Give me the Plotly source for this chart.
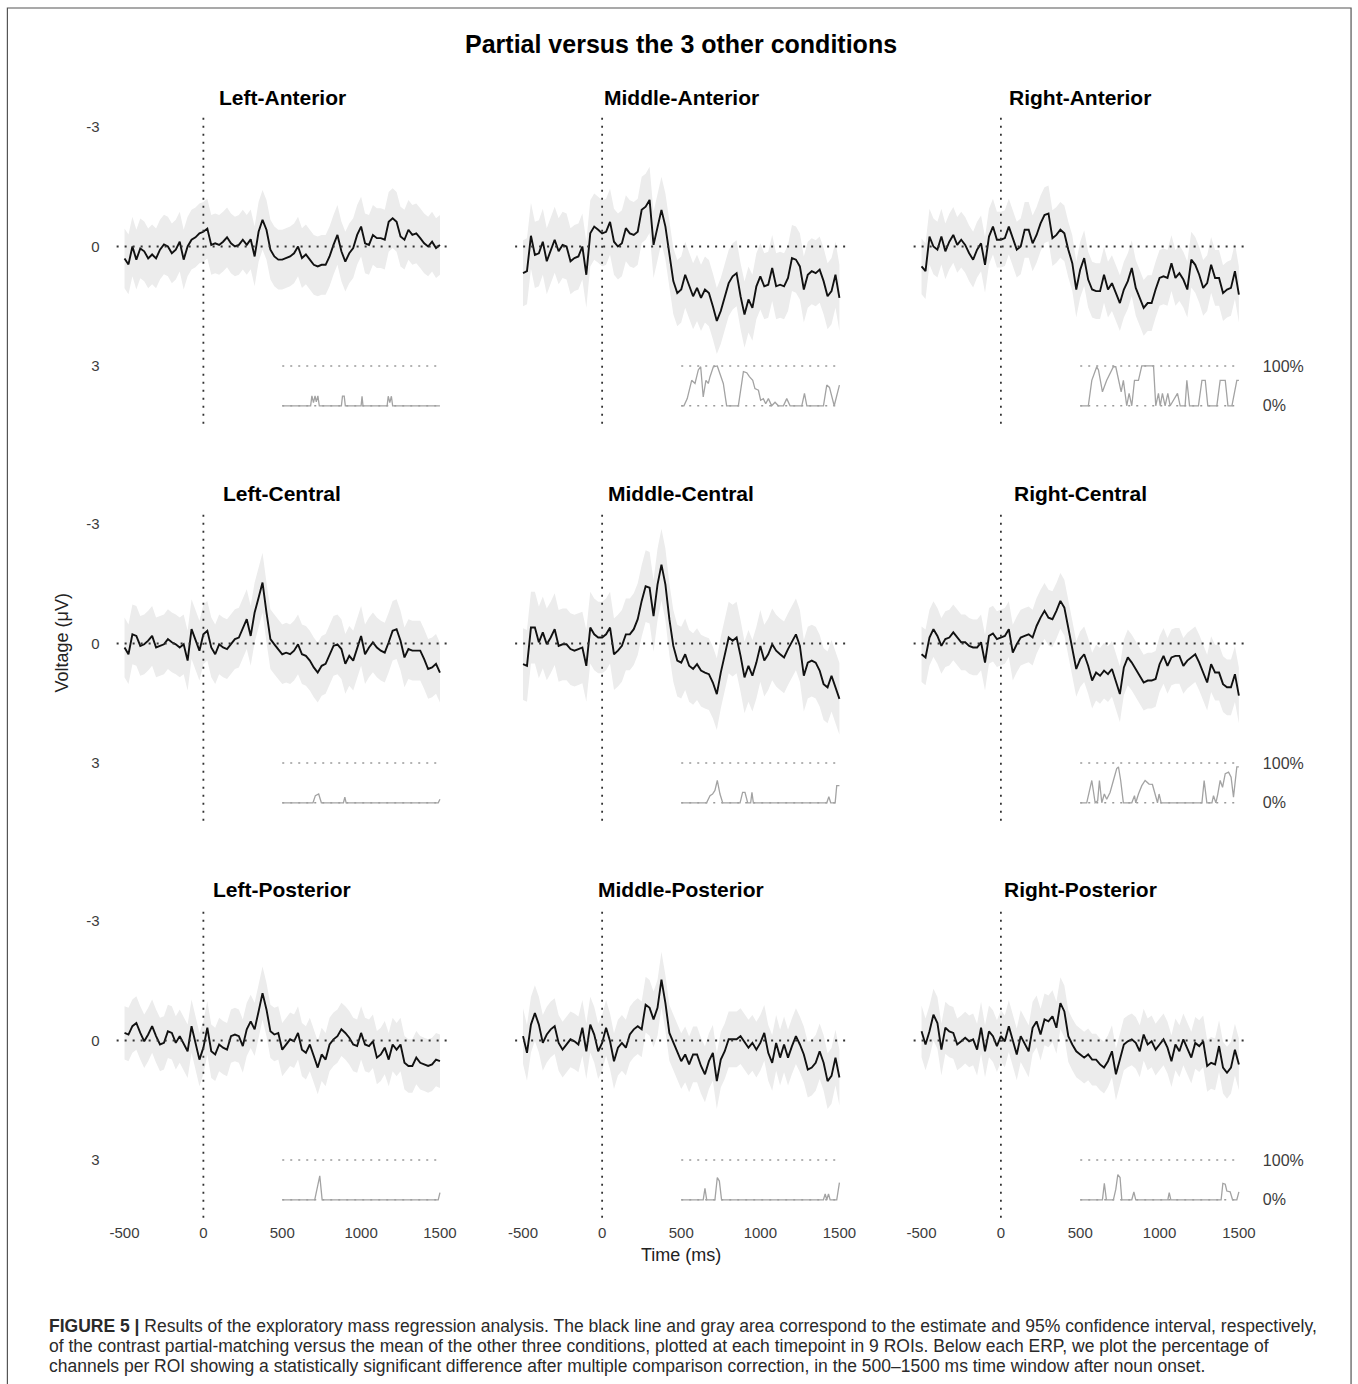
import plotly.graph_objects as go

W, H = 1358, 1384

# ---------------- data ----------------
TIME = list(range(-500, 1501, 25))

PANEL_TITLES = ["Left-Anterior", "Middle-Anterior", "Right-Anterior",
                "Left-Central", "Middle-Central", "Right-Central",
                "Left-Posterior", "Middle-Posterior", "Right-Posterior"]

ERP_LA = [0.3, 0.45, 0.0, 0.33, 0.05, 0.12, 0.3, 0.2, 0.3, 0.08,
          -0.05, 0.0, 0.17, 0.08, -0.12, 0.33, 0.0, -0.17, -0.23, -0.33,
          -0.37, -0.45, -0.04, -0.08, -0.04, -0.12, -0.23, -0.08, 0.0, -0.04,
          -0.17, -0.04, -0.18, 0.25, -0.37, -0.67, -0.42, 0.08, 0.25, 0.33,
          0.33, 0.29, 0.25, 0.17, 0.0, 0.29, 0.2, 0.33, 0.46, 0.5,
          0.46, 0.46, 0.25, -0.04, -0.29, 0.12, 0.38, 0.17, 0.04, -0.29,
          -0.5, -0.08, -0.04, -0.29, -0.21, -0.21, -0.17, -0.62, -0.71, -0.62,
          -0.25, -0.17, -0.42, -0.29, -0.33, -0.21, -0.08, 0.0, -0.12, 0.04,
          -0.04]
ERP_MA = [0.67, 0.62, -0.27, 0.21, 0.17, -0.12, 0.37, 0.08, -0.17, 0.12,
          -0.04, 0.0, 0.37, 0.29, 0.25, 0.0, 0.71, -0.33, -0.5, -0.42,
          -0.33, -0.37, -0.62, -0.12, 0.0, -0.08, -0.46, -0.33, -0.29, -0.37,
          -0.92, -1.0, -1.17, -0.04, -0.46, -0.92, -0.5, 0.17, 0.87, 1.17,
          1.08, 0.71, 1.0, 1.25, 1.04, 1.29, 1.08, 1.17, 1.5, 1.87,
          1.62, 1.25, 0.92, 0.75, 0.67, 1.25, 1.71, 1.33, 1.54, 1.0,
          0.75, 1.0, 0.96, 0.54, 1.0, 0.96, 1.0, 0.79, 0.29, 0.33,
          0.5, 1.08, 0.71, 0.62, 0.67, 0.58, 0.87, 1.25, 1.12, 0.71,
          1.29]
ERP_RA = [0.5, 0.62, -0.25, 0.0, 0.08, -0.25, 0.12, -0.12, -0.29, -0.04,
          -0.17, -0.04, 0.17, 0.33, 0.08, -0.08, 0.46, -0.25, -0.5, -0.17,
          -0.17, -0.21, -0.5, -0.21, 0.08, 0.0, -0.42, -0.42, -0.08, -0.29,
          -0.58, -0.79, -0.83, -0.21, -0.29, -0.42, -0.33, 0.08, 0.42, 1.08,
          0.58, 0.29, 0.83, 1.08, 1.12, 1.12, 0.71, 1.08, 0.92, 1.17,
          1.42, 1.08, 0.87, 0.54, 1.04, 1.29, 1.54, 1.42, 1.42, 1.08,
          0.79, 0.75, 0.79, 0.42, 0.79, 0.67, 0.83, 1.08, 0.33, 0.46,
          0.71, 1.04, 0.92, 0.46, 0.79, 0.79, 1.17, 1.08, 1.04, 0.62,
          1.21]
ERP_LC = [0.1, 0.27, -0.23, -0.19, 0.06, 0.02, -0.07, -0.19, 0.1, 0.06,
          0.02, -0.11, -0.03, 0.02, 0.1, 0.02, 0.43, -0.36, -0.11, 0.18,
          -0.23, -0.32, 0.1, 0.27, 0.02, 0.1, 0.14, 0.02, -0.11, -0.15,
          -0.36, -0.61, -0.19, -0.78, -1.15, -1.53, -0.78, -0.11, 0.02, 0.14,
          0.27, 0.23, 0.27, 0.18, 0.02, 0.27, 0.31, 0.43, 0.6, 0.73,
          0.56, 0.51, 0.27, 0.06, 0.02, 0.14, 0.51, 0.31, 0.43, 0.14,
          -0.19, 0.27, 0.1, -0.03, 0.1, 0.18, 0.23, -0.03, -0.32, -0.36,
          -0.07, 0.35, 0.14, 0.18, 0.18, 0.18, 0.39, 0.64, 0.6, 0.51,
          0.73]
ERP_MC = [0.52, 0.56, -0.4, -0.4, -0.03, -0.28, 0.02, -0.15, -0.36, 0.06,
          0.02, 0.02, 0.14, 0.18, 0.14, 0.1, 0.56, -0.4, -0.23, -0.15,
          -0.15, -0.23, -0.4, 0.27, 0.18, 0.06, -0.23, -0.23, -0.36, -0.61,
          -1.07, -1.44, -1.4, -0.69, -1.48, -1.98, -1.48, -0.61, 0.06, 0.43,
          0.48, 0.27, 0.56, 0.64, 0.52, 0.68, 0.73, 0.77, 0.98, 1.27,
          0.73, 0.31, -0.15, -0.07, -0.15, 0.31, 0.85, 0.56, 0.81, 0.48,
          0.06, 0.43, 0.27, 0.02, 0.18, 0.27, 0.35, 0.14, -0.03, -0.23,
          0.06, 0.81, 0.48, 0.43, 0.48, 0.68, 1.02, 1.1, 0.81, 1.1,
          1.39]
ERP_RC = [0.27, 0.35, -0.15, -0.36, -0.19, 0.06, -0.11, -0.15, -0.28, -0.15,
          -0.03, -0.03, 0.06, 0.1, 0.1, -0.03, 0.48, -0.19, -0.25, -0.11,
          -0.15, -0.19, -0.36, 0.23, 0.02, -0.15, -0.19, -0.23, -0.15, -0.44,
          -0.65, -0.82, -0.65, -0.61, -0.82, -1.07, -0.9, -0.4, 0.1, 0.64,
          0.39, 0.27, 0.56, 0.93, 0.73, 0.81, 0.68, 0.77, 0.64, 0.93,
          1.27, 0.6, 0.35, 0.48, 0.64, 0.81, 0.98, 0.93, 0.93, 0.89,
          0.52, 0.31, 0.56, 0.35, 0.31, 0.31, 0.56, 0.43, 0.35, 0.27,
          0.48, 0.73, 0.98, 0.52, 0.73, 0.73, 1.02, 1.1, 1.1, 0.77,
          1.31]
ERP_LP = [-0.19, -0.15, -0.36, -0.44, -0.19, 0.02, -0.15, -0.36, -0.11, 0.1,
          0.06, -0.23, -0.19, 0.06, -0.11, 0.1, 0.27, -0.36, 0.1, 0.48,
          0.18, -0.32, 0.27, 0.35, 0.1, 0.18, 0.23, -0.11, -0.15, -0.11,
          0.14, -0.28, -0.48, -0.28, -0.73, -1.19, -0.78, -0.23, -0.15, -0.19,
          0.23, 0.1, -0.03, 0.02, -0.19, 0.23, 0.31, 0.1, 0.39, 0.68,
          0.35, 0.48, 0.1, -0.03, -0.11, -0.28, -0.19, -0.07, 0.1, 0.14,
          -0.19, 0.1, 0.14, 0.02, 0.43, 0.35, 0.18, 0.48, 0.1, 0.23,
          0.1, 0.56, 0.64, 0.64, 0.43, 0.56, 0.6, 0.64, 0.6, 0.48,
          0.52]
ERP_MP = [-0.11, 0.31, -0.4, -0.69, -0.4, 0.06, -0.15, -0.28, -0.36, 0.06,
          0.23, 0.1, -0.03, 0.02, 0.1, -0.32, 0.27, -0.4, -0.15, 0.27,
          0.06, -0.32, 0.02, 0.52, 0.18, 0.06, 0.18, -0.15, -0.28, -0.36,
          -0.28, -0.9, -0.82, -0.53, -0.82, -1.53, -0.94, -0.19, 0.06, 0.27,
          0.52, 0.35, 0.6, 0.35, 0.35, 0.64, 0.85, 0.52, 0.31, 1.02,
          0.48, 0.27, -0.03, -0.03, -0.03, -0.11, 0.02, 0.18, 0.06, 0.23,
          0.06, -0.19, 0.31, 0.56, 0.06, 0.43, 0.1, 0.43, 0.14, -0.11,
          0.1, 0.35, 0.73, 0.68, 0.56, 0.27, 0.56, 1.02, 0.89, 0.43,
          0.93]
ERP_RP = [-0.23, 0.1, -0.23, -0.65, -0.44, 0.23, -0.32, -0.23, -0.19, 0.1,
          0.02, -0.07, 0.02, -0.03, 0.23, -0.32, 0.27, -0.23, -0.11, 0.14,
          -0.11, 0.02, -0.36, 0.02, 0.35, -0.11, 0.1, 0.27, -0.32, -0.48,
          -0.15, -0.53, -0.48, -0.61, -0.32, -0.94, -0.73, -0.11, 0.1, 0.27,
          0.35, 0.43, 0.35, 0.48, 0.48, 0.6, 0.68, 0.52, 0.27, 0.85,
          0.48, 0.1, 0.02, -0.03, 0.06, 0.27, -0.15, 0.1, 0.02, 0.23,
          0.1, -0.03, 0.18, 0.52, 0.1, 0.27, -0.03, 0.18, 0.43, 0.06,
          0.14, 0.02, 0.64, 0.56, 0.6, 0.14, 0.68, 0.81, 0.68, 0.23,
          0.6]

# 95% CI half-width read per ROI (microvolts)
CI_HALF = [0.75, 0.83, 0.7, 0.75, 0.9, 0.7, 0.67, 0.7, 0.65]

# percentage of significant channels (500-1500 ms)
PCT_T_LA = [500, 680, 688, 698, 708, 716, 726, 735, 875, 882, 893, 900, 1000, 1006, 1012,
            1165, 1172, 1182, 1192, 1200, 1500]
PCT_V_LA = [0, 0, 25, 8, 25, 10, 25, 0, 0, 24, 24, 0, 0, 24, 0, 0, 24, 8, 24, 0, 0]
PCT_T_MA = [500, 517, 538, 566, 587, 608, 623, 639, 656, 671, 682, 703, 728, 745, 766, 787,
            861, 893, 914, 931, 952, 966, 988, 1002, 1019, 1034, 1051, 1072, 1093, 1114,
            1146, 1167, 1188, 1262, 1279, 1294, 1399, 1420, 1437, 1467, 1500]
PCT_V_MA = [0, 0, 18, 64, 56, 90, 98, 22, 64, 56, 73, 98, 100, 81, 56, 0,
            0, 86, 83, 73, 64, 43, 39, 14, 18, 5, 18, 0, 9, 0,
            0, 18, 0, 0, 31, 0, 0, 52, 46, 0, 52]
PCT_T_RA = [500, 551, 573, 604, 615, 640, 667, 709, 724, 741, 758, 772, 793, 808, 825, 842,
            867, 888, 962, 976, 993, 1004, 1018, 1035, 1052, 1067, 1098, 1113, 1130, 1161,
            1172, 1189, 1245, 1267, 1288, 1304, 1361, 1382, 1414, 1431, 1456, 1487, 1500]
PCT_V_RA = [0, 0, 64, 98, 90, 35, 64, 98, 98, 64, 35, 64, 0, 31, 0, 64,
            64, 100, 100, 0, 31, 0, 31, 0, 31, 0, 22, 31, 0, 0,
            64, 0, 0, 64, 64, 0, 0, 64, 64, 0, 0, 64, 64]
PCT_T_LC = [500, 695, 710, 731, 748, 888, 897, 905, 1489, 1500]
PCT_V_LC = [0, 0, 18, 22, 0, 0, 14, 0, 0, 9]
PCT_T_MC = [500, 660, 682, 698, 713, 728, 745, 762, 872, 888, 903, 920, 939, 947, 956,
            1420, 1433, 1445, 1473, 1483, 1500]
PCT_V_MC = [0, 0, 18, 22, 31, 56, 22, 0, 0, 26, 26, 0, 0, 26, 0, 0, 15, 0, 0, 43, 43]
PCT_T_RC = [500, 541, 573, 594, 610, 621, 636, 652, 667, 688, 709, 730, 741, 755, 772,
            825, 842, 850, 867, 888, 909, 934, 955, 972, 987, 997, 1010, 1267, 1281, 1298,
            1330, 1340, 1355, 1367, 1382, 1397, 1414, 1435, 1451, 1466, 1487, 1500]
PCT_V_RC = [0, 0, 56, 0, 5, 56, 0, 22, 9, 26, 56, 86, 90, 56, 0,
            0, 18, 0, 22, 43, 56, 47, 46, 22, 0, 22, 0, 0, 56, 0,
            0, 18, 0, 22, 56, 39, 73, 77, 64, 14, 90, 90]
PCT_T_LP = [500, 706, 738, 753, 1489, 1500]
PCT_V_LP = [0, 0, 60, 0, 0, 18]
PCT_T_MP = [500, 639, 650, 661, 713, 728, 741, 755, 1399, 1410, 1420, 1431, 1441, 1483, 1500]
PCT_V_MP = [0, 0, 29, 0, 0, 56, 47, 0, 0, 15, 0, 15, 0, 0, 43]
PCT_T_RP = [500, 640, 652, 665, 709, 724, 737, 751, 762, 825, 838, 850, 1052, 1061, 1071,
            1388, 1399, 1414, 1424, 1445, 1460, 1487, 1500]
PCT_V_RP = [0, 0, 41, 0, 0, 26, 63, 56, 0, 0, 20, 0, 0, 18, 0,
            0, 41, 39, 22, 20, 0, 0, 20]

ERPS = [ERP_LA, ERP_MA, ERP_RA, ERP_LC, ERP_MC, ERP_RC, ERP_LP, ERP_MP, ERP_RP]
PCT_T = [PCT_T_LA, PCT_T_MA, PCT_T_RA, PCT_T_LC, PCT_T_MC, PCT_T_RC, PCT_T_LP, PCT_T_MP, PCT_T_RP]
PCT_V = [PCT_V_LA, PCT_V_MA, PCT_V_RA, PCT_V_LC, PCT_V_MC, PCT_V_RC, PCT_V_LP, PCT_V_MP, PCT_V_RP]

X_TICKS = [-500, 0, 500, 1000, 1500]
X_LABELS = ["-500", "0", "500", "1000", "1500"]
Y_TICKS = [-3, 0, 3]
Y_LABELS = ["-3", "0", "3"]
PCT_TICKS = [0, 100]
PCT_LABELS = ["0%", "100%"]
WINDOW = [500, 1500]

TITLE = "Partial versus the 3 other conditions"
CAPTION = [
    "<b>FIGURE 5 |</b> Results of the exploratory mass regression analysis. The black line and gray area correspond to the estimate and 95% confidence interval, respectively,",
    "of the contrast partial-matching versus the mean of the other three conditions, plotted at each timepoint in 9 ROIs. Below each ERP, we plot the percentage of",
    "channels per ROI showing a statistically significant difference after multiple comparison correction, in the 500\u20131500 ms time window after noun onset.",
]

# ---------------- layout geometry (pixels) ----------------
X_SCALE, X_OFF = 0.987, 7.6   # horizontal calibration of the rendered page


def px(xp):
    """target horizontal pixel -> paper fraction"""
    return (xp - X_OFF) / X_SCALE / W


def py(yp):
    return 1 - yp / H


COL_PX = [(117.1, 447.9), (515.1, 846.9), (913.1, 1245.9)]
ROW_PX = [(113.1, 423.7), (510.1, 820.7), (907.1, 1217.7)]
TITLE_Y = [97, 493, 889]
X_RANGE = [-550, 1550]
Y_RANGE = [4.45, -3.35]
P_RANGE = [-45, 735]

FONT = "Liberation Sans, Arial, sans-serif"
TICK_COLOR = "#3c3c3c"

fig = go.Figure()
layout = dict(
    width=W, height=H, margin=dict(l=0, r=0, t=0, b=0),
    paper_bgcolor="white", plot_bgcolor="white", showlegend=False,
    font=dict(family=FONT, color="#000"),
)
shapes = []
annotations = []

for i in range(9):
    r, c = divmod(i, 3)
    n = i + 1
    xs = "" if n == 1 else str(n)
    ys = xs
    pn = str(n + 9)
    x0, x1 = COL_PX[c]
    y0, y1 = ROW_PX[r]

    layout["xaxis" + xs] = dict(
        domain=[px(x0), px(x1)], range=X_RANGE, anchor="y" + ys,
        showgrid=False, zeroline=False, showline=False, ticks="",
        tickvals=X_TICKS, ticktext=X_LABELS, showticklabels=(r == 2),
        tickfont=dict(size=15, color=TICK_COLOR, family=FONT),
        ticklabelstandoff=4, fixedrange=True,
    )
    layout["yaxis" + ys] = dict(
        domain=[py(y1), py(y0)], range=Y_RANGE, anchor="x" + xs,
        showgrid=False, zeroline=False, showline=False, ticks="",
        tickvals=Y_TICKS, ticktext=Y_LABELS, showticklabels=(c == 0),
        tickfont=dict(size=15, color=TICK_COLOR, family=FONT),
        ticklabelstandoff=16, fixedrange=True,
    )
    layout["yaxis" + pn] = dict(
        overlaying="y" + ys, anchor="x" + xs, side="right", range=P_RANGE,
        showgrid=False, zeroline=False, showline=False, ticks="",
        tickvals=PCT_TICKS, ticktext=PCT_LABELS, showticklabels=(c == 2),
        tickfont=dict(size=16, color=TICK_COLOR, family=FONT),
        ticklabelstandoff=15, fixedrange=True,
    )

    erp = ERPS[i]
    hw = CI_HALF[i]
    lower = [v - hw for v in erp]
    upper = [v + hw for v in erp]
    xa, ya = "x" + xs, "y" + ys

    fig.add_trace(go.Scatter(x=TIME, y=lower, mode="lines", line=dict(width=0),
                             hoverinfo="skip", xaxis=xa, yaxis=ya))
    fig.add_trace(go.Scatter(x=TIME, y=upper, mode="lines", line=dict(width=0),
                             fill="tonexty", fillcolor="#ececec",
                             hoverinfo="skip", xaxis=xa, yaxis=ya))
    fig.add_trace(go.Scatter(x=TIME, y=erp, mode="lines",
                             line=dict(color="#111", width=1.9),
                             xaxis=xa, yaxis=ya))
    fig.add_trace(go.Scatter(x=PCT_T[i], y=PCT_V[i], mode="lines",
                             line=dict(color="#a3a3a3", width=1.3),
                             xaxis=xa, yaxis="y" + pn))

    # reference lines
    shapes.append(dict(type="line", xref=xa + " domain", yref=ya, x0=0, x1=1, y0=0, y1=0,
                       line=dict(color="#333", width=1.8, dash="2px,6px"), layer="above"))
    shapes.append(dict(type="line", xref=xa, yref=ya + " domain", x0=0, x1=0, y0=0, y1=1,
                       line=dict(color="#333", width=1.8, dash="2px,6px"), layer="above"))
    for pv in PCT_TICKS:
        shapes.append(dict(type="line", xref=xa, yref="y" + pn, x0=WINDOW[0], x1=WINDOW[1],
                           y0=pv, y1=pv,
                           line=dict(color="#9a9a9a", width=1.4, dash="2px,6px"), layer="below"))

    annotations.append(dict(text="<b>%s</b>" % PANEL_TITLES[i], xref=xa, x=500,
                            yref="paper", y=py(TITLE_Y[r]), showarrow=False,
                            xanchor="center", yanchor="middle",
                            font=dict(size=21, color="#000", family=FONT)))

# main title and axis labels
annotations.append(dict(text="<b>%s</b>" % TITLE, xref="paper", yref="paper",
                        x=px(681), y=py(44), showarrow=False, xanchor="center",
                        yanchor="middle", font=dict(size=25, color="#000", family=FONT)))
annotations.append(dict(text="Voltage (\u03bcV)", xref="paper", yref="paper",
                        x=px(63), y=py(643), showarrow=False, textangle=-90,
                        xanchor="center", yanchor="middle",
                        font=dict(size=18, color="#222", family=FONT)))
annotations.append(dict(text="Time (ms)", xref="paper", yref="paper",
                        x=px(681), y=py(1255), showarrow=False,
                        xanchor="center", yanchor="middle",
                        font=dict(size=18, color="#222", family=FONT)))

# caption
CAP_Y = [1326, 1346, 1366]
for line, yy in zip(CAPTION, CAP_Y):
    annotations.append(dict(text=line, xref="paper", yref="paper", x=px(48),
                            y=py(yy), showarrow=False, xanchor="left",
                            yanchor="middle",
                            font=dict(size=17.5, color="#2a2a2a", family=FONT)))

# outer frame
shapes.append(dict(type="rect", xref="paper", yref="paper", x0=px(8), x1=px(1350),
                   y0=-0.05, y1=py(8), line=dict(color="#555", width=1.2),
                   fillcolor="rgba(0,0,0,0)", layer="above"))

layout["shapes"] = shapes
layout["annotations"] = annotations
fig.update_layout(**layout)

fig.write_html("out.html", config={"displayModeBar": False},
               post_script="document.body.style.margin='0px';document.body.style.overflow='hidden';")
